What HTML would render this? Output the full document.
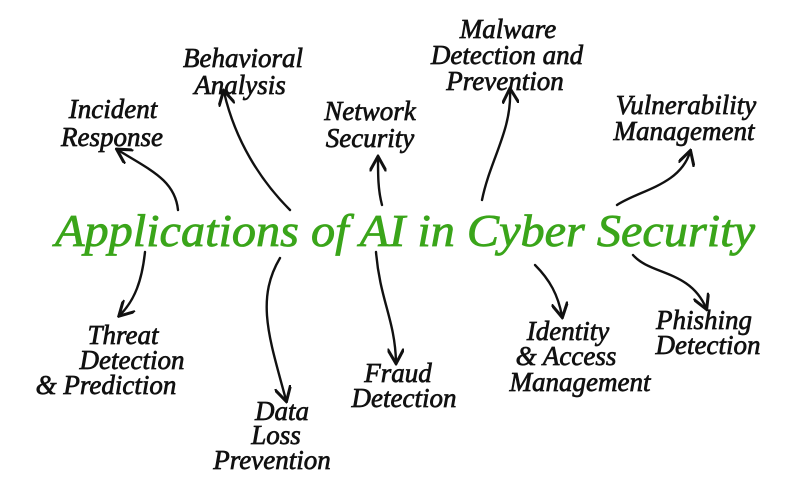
<!DOCTYPE html>
<html><head><meta charset="utf-8"><style>
html,body{margin:0;padding:0;background:#fff;}
svg{display:block;}
text{font-family:"Liberation Serif",serif;font-style:italic;fill:#111;}
.t{fill:#3aa51a;stroke:#3aa51a;stroke-width:0.8;font-size:46px;}
.l{font-size:27px;stroke:#111;stroke-width:0.7;}
path{fill:none;stroke:#111;stroke-width:2.4;stroke-linecap:round;}
</style></head><body>
<svg width="800" height="499" viewBox="0 0 800 499">
<defs><marker id="a" viewBox="0 0 10 10" refX="8" refY="5" markerWidth="7" markerHeight="7" orient="auto-start-reverse"><path d="M0,0 L9,5 L0,10" style="stroke-width:1.8"/></marker></defs>
<text class="t" x="405" y="246" text-anchor="middle" textLength="700" lengthAdjust="spacingAndGlyphs">Applications of AI in Cyber Security</text>

<g text-anchor="middle">
<text class="l" x="113" y="118">Incident</text><text class="l" x="112" y="146">Response</text>
<text class="l" x="243" y="67">Behavioral</text><text class="l" x="240" y="94">Analysis</text>
<text class="l" x="370" y="120">Network</text><text class="l" x="370" y="147">Security</text>
<text class="l" x="508" y="38">Malware</text><text class="l" x="507" y="64">Detection and</text><text class="l" x="505" y="90">Prevention</text>
<text class="l" x="686" y="114">Vulnerability</text><text class="l" x="684" y="140">Management</text>
<text class="l" x="123" y="344">Threat</text><text class="l" x="132" y="369">Detection</text><text class="l" x="106" y="394">&amp; Prediction</text>
<text class="l" x="282" y="420">Data</text><text class="l" x="276" y="444">Loss</text><text class="l" x="272" y="469">Prevention</text>
<text class="l" x="398" y="382">Fraud</text><text class="l" x="404" y="407">Detection</text>
<text class="l" x="568" y="340">Identity</text><text class="l" x="566" y="365">&amp; Access</text><text class="l" x="580" y="391">Management</text>
<text class="l" x="704" y="329">Phishing</text><text class="l" x="708" y="354">Detection</text>
</g>

<path marker-end="url(#a)" d="M178,210 C175,180 150,170 118,150"/>
<path marker-end="url(#a)" d="M290,210 C260,180 235,140 224,92"/>
<path marker-end="url(#a)" d="M382,205 C378,190 378,175 378,158"/>
<path marker-end="url(#a)" d="M482,200 C490,160 512,130 510,90"/>
<path marker-end="url(#a)" d="M617,205 C640,190 680,185 690,152"/>
<path marker-end="url(#a)" d="M145,252 C142,280 135,300 120,315"/>
<path marker-end="url(#a)" d="M280,258 C255,300 270,340 286,400"/>
<path marker-end="url(#a)" d="M376,252 C380,300 395,320 396,362"/>
<path marker-end="url(#a)" d="M535,265 C550,280 558,295 562,316"/>
<path marker-end="url(#a)" d="M633,255 C650,275 690,270 706,308"/>
</svg>
</body></html>
